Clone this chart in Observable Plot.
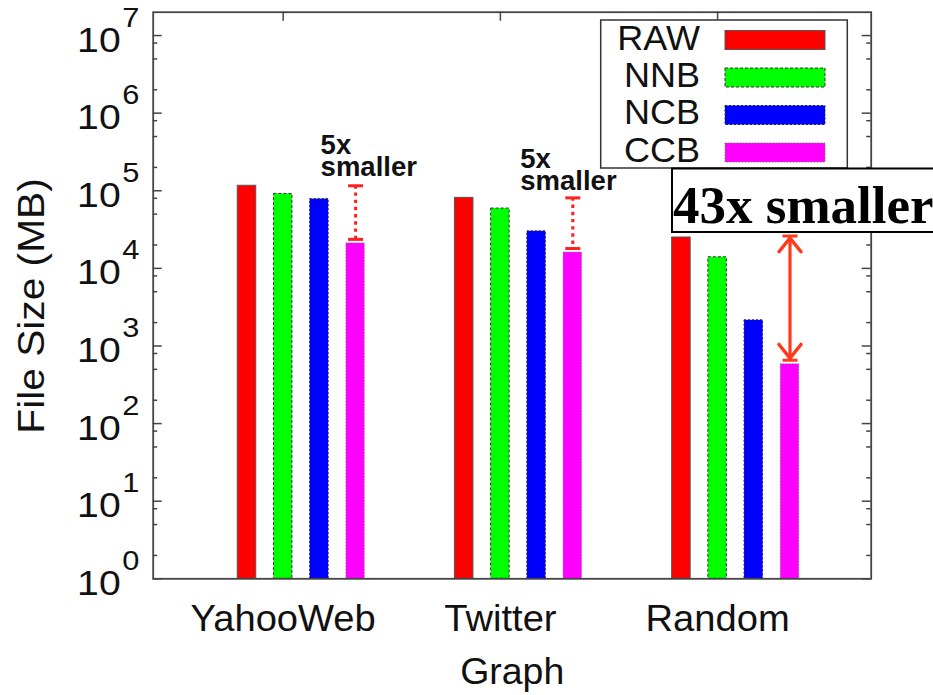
<!DOCTYPE html>
<html><head><meta charset="utf-8">
<script src="https://cdn.jsdelivr.net/npm/d3@7"></script>
<script src="https://cdn.jsdelivr.net/npm/@observablehq/plot@0.6"></script>
<style>
html,body{margin:0;padding:0;background:#fff;}
#chart{position:relative;width:933px;height:695px;overflow:hidden;}
</style></head><body><div id="chart"></div>
<script>
// ---- data ----
const graphs = ["YahooWeb", "Twitter", "Random"];
const series = ["RAW", "NNB", "NCB", "CCB"];
const colors = ["#ff0000", "#00ff00", "#0000ff", "#ff00ff"];
const rawMB = [116000, 81000, 25000];
const nnbMB = [91000, 59000, 13900];
const ncbMB = [78000, 30000, 2140];
const ccbMB = [21000, 16000, 582];
const yTickValues = [1, 10, 100, 1e3, 1e4, 1e5, 1e6, 1e7];
const yTickExponents = ["0", "1", "2", "3", "4", "5", "6", "7"];
const smallNote = "5x\nsmaller";
const bigNote = "43x smaller";
const xTitle = "Graph";
const yTitle = "File Size (MB)";

// ---- layout / style ----
const W = 933, H = 695;
const mL = 152.7, mR = 62.3, mT = 11.7, mB = 116.7;
const plotW = W - mL - mR, plotH = H - mT - mB;
const GAP = 2; // histogram gap (in bar slots)
const slotOf = (g, s) => g * (series.length + GAP) + s;
const sans = "'Liberation Sans', Arial, Helvetica, sans-serif";
const serif = "'Liberation Serif', 'Times New Roman', serif";
const axisColor = "#444";
const barStroke = [
  {stroke: "#555", dash: null},
  {stroke: "#333", dash: "3,2"},
  {stroke: "#223", dash: "2,2"},
  {stroke: "#777", dash: "1,2"}
];

const seriesValues = [rawMB, nnbMB, ncbMB, ccbMB];
const rows = [];
graphs.forEach((g, gi) => series.forEach((s, si) => {
  rows.push({graph: g, series: s, si, value: seriesValues[si][gi], slot: slotOf(gi, si)});
}));
const notes = graphs.map((g, gi) => ({graph: g, slot: slotOf(gi, 3), top: rawMB[gi], bottom: ccbMB[gi]}));
const yMinor = d3.range(0, 7).flatMap(k => [2, 5, 8].map(m => m * 10 ** k));
const labelSlots = graphs.map((g, gi) => slotOf(gi, 1));

const capSymbol = {draw(ctx, size) { const r = Math.sqrt(size / Math.PI); ctx.moveTo(-r, 0); ctx.lineTo(r, 0); }};
const headUp = {draw(ctx, size) { const r = Math.sqrt(size / Math.PI); ctx.moveTo(-r, r * 1.25); ctx.lineTo(0, 0); ctx.lineTo(r, r * 1.25); }};
const headDown = {draw(ctx, size) { const r = Math.sqrt(size / Math.PI); ctx.moveTo(-r, -r * 1.25); ctx.lineTo(0, 0); ctx.lineTo(r, -r * 1.25); }};

const barMarks = series.map((s, si) => Plot.rectY(rows.filter(d => d.si === si), {
  x1: d => d.slot - 0.5, x2: d => d.slot + 0.5, y1: 1, y2: "value",
  insetLeft: 8.85, insetRight: 8.85,
  fill: colors[si], stroke: barStroke[si].stroke, strokeWidth: 1,
  strokeDasharray: barStroke[si].dash
}));

const dotted = notes.slice(0, 2);
const solid = notes.slice(2);
const dotColor = "#ff1f1f", arrowColor = "#ff3a1c";

const chart = Plot.plot({
  width: W, height: H,
  marginLeft: mL, marginRight: mR, marginTop: mT, marginBottom: mB,
  style: {fontFamily: sans, background: "#fff", overflow: "visible"},
  x: {type: "linear", domain: [-2.591, 17.243], axis: null},
  y: {type: "log", domain: [1, 2e7], axis: null},
  marks: [
    // ticks (gnuplot style, inward, mirrored)
    Plot.tickY(yTickValues, {y: d => d, insetRight: plotW - 9, stroke: axisColor, strokeWidth: 1.5}),
    Plot.tickY(yTickValues, {y: d => d, insetLeft: plotW - 9, stroke: axisColor, strokeWidth: 1.5}),
    Plot.tickY(yMinor, {y: d => d, insetRight: plotW - 4.5, stroke: axisColor, strokeWidth: 1.5}),
    Plot.tickY(yMinor, {y: d => d, insetLeft: plotW - 4.5, stroke: axisColor, strokeWidth: 1.5}),
    Plot.tickX(labelSlots, {x: d => d, insetBottom: plotH - 9, stroke: axisColor, strokeWidth: 1.5}),
    Plot.tickX(labelSlots, {x: d => d, insetTop: plotH - 9, stroke: axisColor, strokeWidth: 1.5}),
    ...barMarks,
    Plot.frame({stroke: axisColor, strokeWidth: 1.8}),
    // y tick labels
    Plot.text(yTickValues, {y: d => d, text: () => "10", frameAnchor: "left", textAnchor: "end",
      lineAnchor: "bottom", dx: -32.5, dy: 16, fontSize: 35, fill: "#111"}),
    Plot.text(yTickValues, {y: d => d, text: (d, i) => yTickExponents[i], frameAnchor: "left", textAnchor: "start",
      lineAnchor: "bottom", dx: -31, dy: -9, fontSize: 28, fill: "#111"}),
    // category labels
    Plot.text(graphs, {x: (d, i) => labelSlots[i], text: d => d, frameAnchor: "bottom", lineAnchor: "bottom",
      dy: 52, fontSize: 36, fill: "#111"}),
    Plot.text([xTitle], {frameAnchor: "bottom", text: d => d, lineAnchor: "bottom", dy: 104.7, fontSize: 36, fill: "#111"}),
    // dotted 5x annotations
    Plot.ruleX(dotted, {x: "slot", y1: "top", y2: "bottom", insetBottom: 4, stroke: dotColor, strokeWidth: 3, strokeDasharray: "3.4,3.8"}),
    Plot.dot(dotted, {x: "slot", y: "top", symbol: capSymbol, r: 7.5, stroke: dotColor, strokeWidth: 3, fill: "none"}),
    Plot.dot(dotted, {x: "slot", y: "bottom", dy: -4, symbol: capSymbol, r: 7.5, stroke: dotColor, strokeWidth: 3, fill: "none"}),
    // solid 43x arrow
    Plot.ruleX(solid, {x: "slot", y1: "top", y2: "bottom", insetTop: 2, insetBottom: 4, stroke: arrowColor, strokeWidth: 3.2}),
    Plot.dot(solid, {x: "slot", y: "top", dy: -1.5, symbol: capSymbol, r: 7.5, stroke: arrowColor, strokeWidth: 3, fill: "none"}),
    Plot.dot(solid, {x: "slot", y: "bottom", dy: -4, symbol: capSymbol, r: 7.5, stroke: arrowColor, strokeWidth: 3, fill: "none"}),
    Plot.dot(solid, {x: "slot", y: "top", dy: 0.5, symbol: headUp, r: 11, stroke: arrowColor, strokeWidth: 3.5, fill: "none", strokeLinecap: "round", strokeLinejoin: "round"}),
    Plot.dot(solid, {x: "slot", y: "bottom", dy: -6, symbol: headDown, r: 11, stroke: arrowColor, strokeWidth: 3.5, fill: "none", strokeLinecap: "round", strokeLinejoin: "round"}),
    Plot.text(solid, {x: "slot", y: "top", text: () => bigNote, textAnchor: "start", lineAnchor: "bottom",
      dx: -117, dy: -14, fontSize: 53, fontWeight: "bold", fontFamily: serif, fill: "#000"}),
    // 5x labels (drawn last, on top of the legend box edge)
    Plot.text(dotted.slice(0, 1), {x: "slot", y: "top", text: () => smallNote, textAnchor: "start", lineAnchor: "bottom",
      dx: -35, dy: -10, fontSize: 27.5, fontWeight: "bold", lineHeight: 0.8, fill: "#111"}),
    Plot.text(dotted.slice(1, 2), {x: "slot", y: "top", text: () => smallNote, textAnchor: "start", lineAnchor: "bottom",
      dx: -52.5, dy: -8, fontSize: 27.5, fontWeight: "bold", lineHeight: 0.8, fill: "#111"})
  ]
});

document.getElementById("chart").appendChild(chart);
const svg = d3.select(chart);
const texts = svg.selectAll("text");
const byContent = (s) => texts.filter(function () { return this.textContent === s; });

// widen the sans glyphs a little (the original's Helvetica renders wider than Arial)
function stretch(sel, sx) {
  sel.each(function () {
    const t = this.getAttribute("transform") || "";
    this.setAttribute("transform", t + ` scale(${sx},1)`);
  });
}
stretch(byContent("10"), 1.12);
stretch(texts.filter(function () { return yTickExponents.includes(this.textContent); }), 1.1);
graphs.forEach(g => stretch(byContent(g), 1.06));
stretch(byContent(xTitle), 1.04);

// ---- y axis title ----
svg.append("text").attr("transform", "translate(44,306) rotate(-90) scale(1.1,1)")
  .attr("text-anchor", "middle").attr("font-family", sans).attr("font-size", 37).attr("fill", "#111")
  .text(yTitle);

// ---- legend (inside plot, top right) + box behind the 43x note ----
const bigText = byContent(bigNote).node();
const bigG = bigText ? bigText.parentNode : null;
const legendNode = document.createElementNS("http://www.w3.org/2000/svg", "g");
if (bigG) chart.insertBefore(legendNode, bigG); else chart.appendChild(legendNode);
const legend = d3.select(legendNode).attr("aria-label", "legend");
legend.append("rect").attr("x", 600.7).attr("y", 20).attr("width", 246.6).attr("height", 148)
  .attr("fill", "#fff").attr("stroke", "#333").attr("stroke-width", 1.5);
series.forEach((s, i) => {
  legend.append("text").attr("x", 700).attr("y", 50 + i * 37.2).attr("text-anchor", "end")
    .attr("font-family", sans).attr("font-size", 35).attr("fill", "#111")
    .attr("transform", `translate(700,0) scale(1.03,1) translate(-700,0)`).text(s);
  legend.append("rect").attr("x", 725).attr("y", 30.5 + i * 37.5).attr("width", 100).attr("height", 19)
    .attr("fill", colors[i]).attr("stroke", barStroke[i].stroke).attr("stroke-width", 1)
    .attr("stroke-dasharray", barStroke[i].dash);
});

if (bigText) {
  const bb = bigText.getBBox();
  const r = document.createElementNS("http://www.w3.org/2000/svg", "rect");
  bigG.insertBefore(r, bigText);
  d3.select(r)
    .attr("x", bb.x - 1).attr("y", bb.y - 8).attr("width", bb.width + 60).attr("height", bb.height + 5.5)
    .attr("fill", "#fff").attr("stroke", "#000").attr("stroke-width", 2)
    .attr("transform", bigText.getAttribute("transform"));
}
</script></body></html>
